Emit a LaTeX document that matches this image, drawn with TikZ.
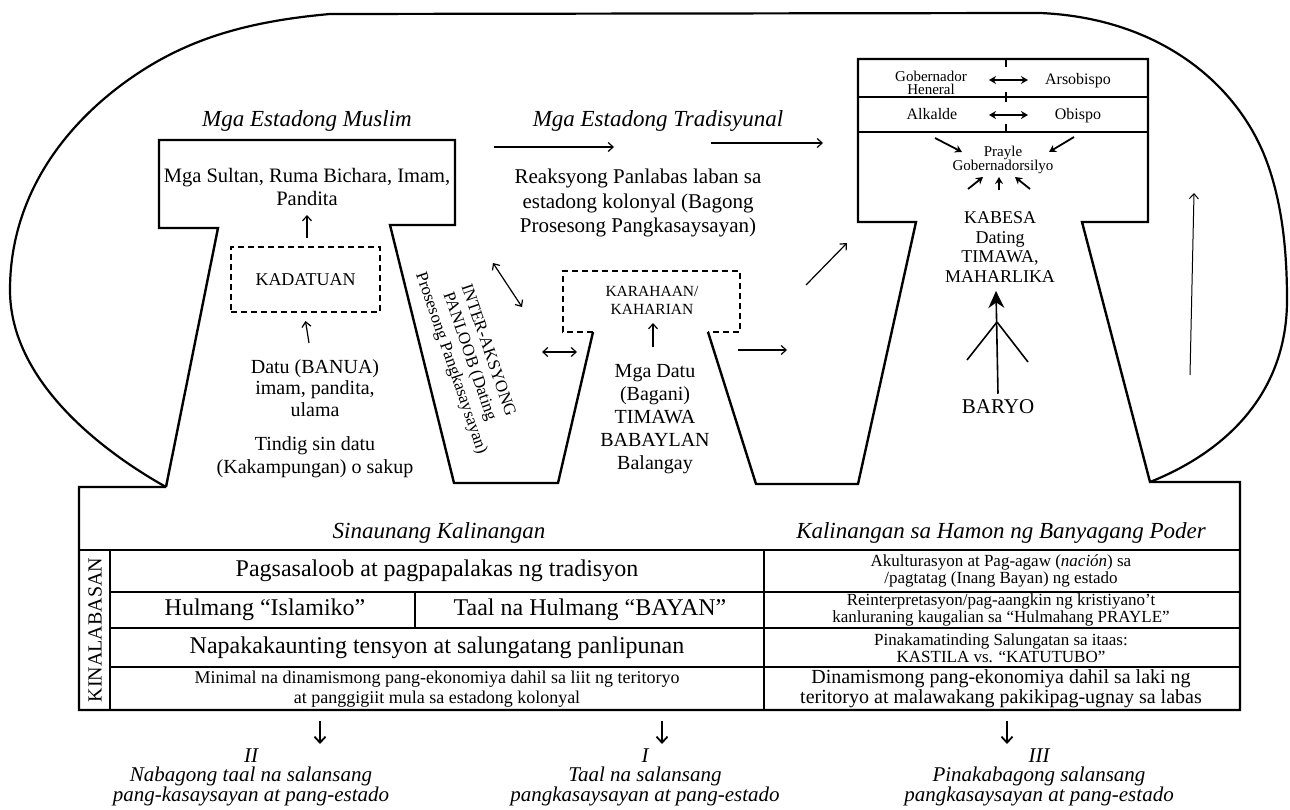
\documentclass[tikz,border=0pt]{standalone}
\usepackage{fontspec}
\setmainfont{Liberation Serif}
\usetikzlibrary{arrows.meta}
\newcommand\fsz[2]{\fontsize{#1}{#2}\selectfont}
\begin{document}
\begin{tikzpicture}[x=1pt,y=-1pt,
  every node/.style={inner sep=0pt, align=center},
  shapeline/.style={line width=2.4pt, line join=miter},
  arcline/.style={line width=2.2pt},
  dashline/.style={line width=2pt, dash pattern=on 6pt off 4pt},
  gridline/.style={line width=1.6pt},
  arr/.style={line width=1.2pt, -{Straight Barb[length=5pt,width=9pt]}},
  darr/.style={line width=1.2pt, {Straight Barb[length=5pt,width=9pt]}-{Straight Barb[length=5pt,width=9pt]}},
  barr/.style={line width=1.8pt, -{Stealth[length=7pt,width=8pt]}},
  bdarr/.style={line width=1.8pt, {Stealth[length=7pt,width=8pt]}-{Stealth[length=7pt,width=8pt]}},
  downarr/.style={line width=1.8pt, -{Straight Barb[length=6pt,width=11pt]}},
  ttl/.style={font=\fsz{23}{25}\itshape},
  bodytxt/.style={font=\fsz{21}{24.5}},
  smalltxt/.style={font=\fsz{15}{12.5}},
  rowbig/.style={font=\fsz{24}{26}},
  rowsmall/.style={font=\fsz{18}{19.5}},
  colr/.style={font=\fsz{17}{17}},
  botlbl/.style={font=\fsz{21}{19.5}\itshape}
]
\useasboundingbox (0,0) rectangle (1290,810);
\fill[white] (0,0) rectangle (1290,810);

% ---------- outline ----------
\coordinate (la) at (166,487);
\coordinate (ra) at (1150,482);
\draw[arcline] (la) .. controls (100,450) and (10,380) .. (10,290)
  .. controls (10,200) and (60,130) .. (124,83)
  .. controls (180,42) and (240,22) .. (330,14)
  -- (1040,13) .. controls (1160,18) and (1240,85) .. (1268,165)
  .. controls (1282,205) and (1287,250) .. (1287,300)
  .. controls (1287,390) and (1230,450) .. (ra);

\draw[shapeline] (la) -- (218,228) -- (159,228) -- (159,140) -- (455,140) -- (455,225)
  -- (390,225) -- (454,483) -- (558,483) -- (593,332);
\draw[dashline] (593,332) -- (563,332) -- (563,271) -- (740,271) -- (740,332) -- (708,332);
\draw[shapeline] (708,332) -- (756,484) -- (858,484) -- (916,222) -- (858,222) -- (858,59)
  -- (1148,59) -- (1148,222) -- (1082,222) -- (ra) -- (1240,482) -- (1240,710)
  -- (79,710) -- (79,487) -- (la);

% colonial box rows
\draw[gridline] (858,97) -- (1148,97);
\draw[gridline] (858,132) -- (1148,132);
\draw[line width=1.2pt] (1006,59) -- (1006,67) (1006,92) -- (1006,102) (1006,124) -- (1006,132);

% KADATUAN box
\node[draw, dashline, minimum width=149pt, minimum height=65pt, font=\fsz{18}{20}] (kadatuan) at (305.5,279.5) {KADATUAN};

% ---------- texts top ----------
\node[ttl] (tmuslim) at (307,121) {Mga Estadong Muslim};
\node[ttl] (ttrad) at (658,121) {Mga Estadong Tradisyunal};
\node[bodytxt] (reaksyon) at (638,203) {Reaksyong Panlabas laban sa\\estadong kolonyal (Bagong\\Prosesong Pangkasaysayan)};
\node[font=\fsz{20.5}{23}] (sultan) at (307,187) {Mga Sultan, Ruma Bichara, Imam,\\Pandita};
\node[font=\fsz{20}{21.5}] (datu) at (315,388) {Datu (BANUA)\\imam, pandita,\\ulama};
\node[font=\fsz{20}{23}] (tindig) at (315,457) {Tindig sin datu\\(Kakampungan) o sakup};
\node[font=\fsz{17}{19.5}, rotate=-71] (inter) at (469,357) {INTER-AKSYONG\\PANLOOB (Dating\\Prosesong Pangkasaysayan)};
\node[font=\fsz{15.5}{18}] (karahaan) at (652,300) {KARAHAAN/\\KAHARIAN};
\node[font=\fsz{20}{23}] (mgadatu) at (655,419) {Mga Datu\\(Bagani)\\TIMAWA\\BABAYLAN\\Balangay};

\node[smalltxt] (gob) at (931,83) {Gobernador\\Heneral};
\node[font=\fsz{16}{16}, anchor=base] (arso) at (1078,85) {Arsobispo};
\node[font=\fsz{16}{16}, anchor=base] (alk) at (932,120) {Alkalde};
\node[font=\fsz{16}{16}, anchor=base] (obis) at (1078,120) {Obispo};
\node[smalltxt] (prayle) at (1003,160) {Prayle\\Gobernadorsilyo};
\node[font=\fsz{18}{19.5}] (kabesa) at (1000,247) {KABESA\\Dating\\TIMAWA,\\MAHARLIKA};
\node[font=\fsz{21}{23}] (baryo) at (998,407) {BARYO};

% ---------- arrows top ----------
\coordinate (a1s) at (307,238); \coordinate (a1e) at (307,215);
\draw[arr] (a1s) -- (a1e);
\coordinate (a2s) at (309,343);
\draw[arr] (a2s) -- (kadatuan.south |- 0,321);
\coordinate (a3s) at (494,147); \coordinate (a3e) at (614,147);
\draw[arr] (a3s) -- (a3e);
\coordinate (a4s) at (711,143); \coordinate (a4e) at (823,143);
\draw[arr] (a4s) -- (a4e);
\coordinate (a5s) at (493,263); \coordinate (a5e) at (522,307);
\draw[darr] (a5s) -- (a5e);
\coordinate (a6s) at (542,352); \coordinate (a6e) at (577,352);
\draw[darr] (a6s) -- (a6e);
\coordinate (a7s) at (653,347); \coordinate (a7e) at (653,323);
\draw[arr] (a7s) -- (a7e);
\coordinate (a8s) at (738,350); \coordinate (a8e) at (787,350);
\draw[arr] (a8s) -- (a8e);
\coordinate (a9s) at (806,285); \coordinate (a9e) at (847,243);
\draw[arr] (a9s) -- (a9e);
\coordinate (a10s) at (1190,375); \coordinate (a10e) at (1194,193);
\draw[arr, line width=1pt] (a10s) -- (a10e);

\draw[bdarr] (989,80) -- (1028,80);
\draw[bdarr] (989,115) -- (1028,115);
\coordinate (p1s) at (935,138); \coordinate (p1e) at (962,152);
\draw[barr] (p1s) -- (p1e);
\coordinate (p2s) at (1074,137); \coordinate (p2e) at (1049,152);
\draw[barr] (p2s) -- (p2e);
\draw[barr] (968,189) -- (983,177);
\draw[barr] (999,190) -- (999,177);
\draw[barr] (1030,189) -- (1015,177);

% big arrow from BARYO
\coordinate (bj) at (997,322);
\draw[line width=1.6pt, -{Stealth[length=17pt,width=16pt]}] (baryo.north) ++(0,-6) -- (996,291);
\draw[line width=1.6pt] (bj) -- (967,360) (bj) -- (1028,362);

% ---------- table ----------
\draw[gridline] (79,550) -- (1240,550);
\draw[gridline] (110,550) -- (110,710);
\draw[gridline] (764,550) -- (764,710);
\draw[gridline] (110,592) -- (1240,592);
\draw[gridline] (110,628) -- (1240,628);
\draw[gridline] (110,667) -- (1240,667);
\draw[gridline] (415,592) -- (415,628);

\node[font=\fsz{23}{25}\itshape] (hdrl) at (439,533) {Sinaunang Kalinangan};
\node[font=\fsz{23}{25}\itshape] (hdrr) at (1001,533) {Kalinangan sa Hamon ng Banyagang Poder};
\node[font=\fsz{20}{20}, rotate=90] (kinal) at (95,630) {KINALABASAN};

\node[rowbig] (r1) at (437,571) {Pagsasaloob at pagpapalakas ng tradisyon};
\node[rowbig] (r2a) at (265,610) {Hulmang “Islamiko”};
\node[rowbig] (r2b) at (590,610) {Taal na Hulmang “BAYAN”};
\node[rowbig] (r3) at (437,648) {Napakakaunting tensyon at salungatang panlipunan};
\node[rowsmall] (r4) at (437,689) {Minimal na dinamismong pang-ekonomiya dahil sa liit ng teritoryo\\at panggigiit mula sa estadong kolonyal};

\node[colr] (c1) at (1001,571) {Akulturasyon at Pag-agaw (\textit{nación}) sa\\/pagtatag (Inang Bayan) ng estado};
\node[colr] (c2) at (1001,610) {Reinterpretasyon/pag-aangkin ng kristiyano’t\\kanluraning kaugalian sa “Hulmahang PRAYLE”};
\node[colr] (c3) at (1001,648) {Pinakamatinding Salungatan sa itaas:\\KASTILA vs. “KATUTUBO”};
\node[font=\fsz{20}{20}] (c4) at (1001,689) {Dinamismong pang-ekonomiya dahil sa laki ng\\teritoryo at malawakang pakikipag-ugnay sa labas};

% ---------- bottom ----------
\node[botlbl] (b2) at (251,777) {II\\Nabagong taal na salansang\\pang-kasaysayan at pang-estado};
\node[botlbl] (b1) at (645,777) {I\\Taal na salansang\\pangkasaysayan at pang-estado};
\node[botlbl] (b3) at (1039,777) {III\\Pinakabagong salansang\\pangkasaysayan at pang-estado};
\coordinate (d2) at (320,721); \coordinate (d1) at (662,721); \coordinate (d3) at (1007,721);
\draw[downarr] (d2) -- (320,744);
\draw[downarr] (d1) -- (662,744);
\draw[downarr] (d3) -- (1007,744);
\end{tikzpicture}
\end{document}
